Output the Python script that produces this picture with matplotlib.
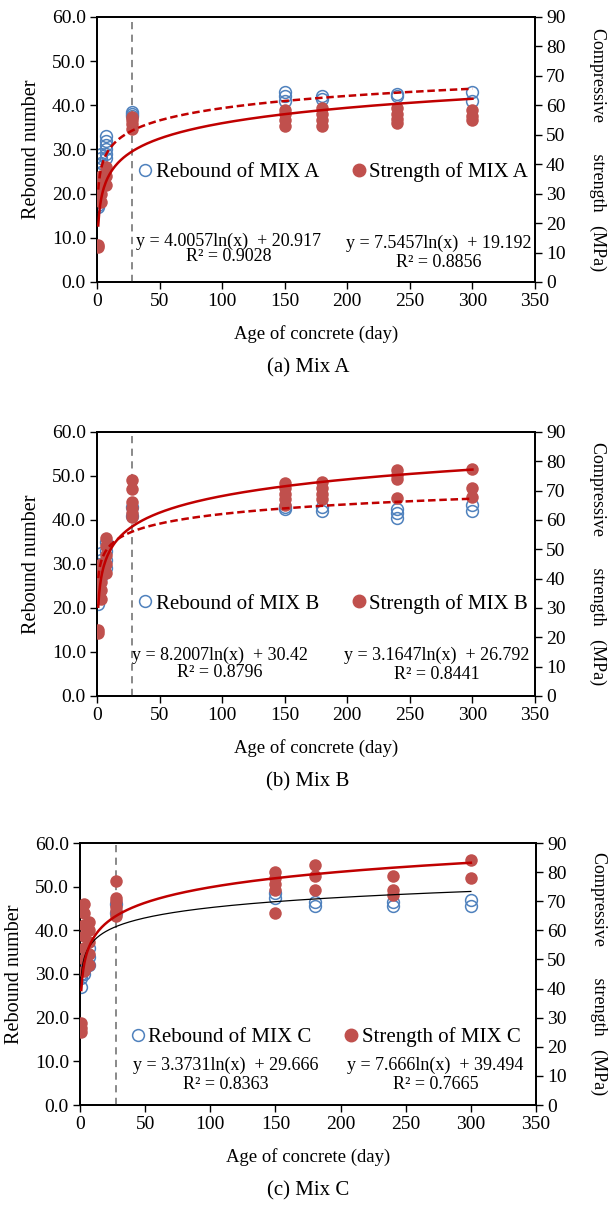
import numpy as np
import matplotlib
matplotlib.use('Agg')
import matplotlib.pyplot as plt
from matplotlib.lines import Line2D

plt.rcParams['font.family'] = ['Liberation Serif', 'DejaVu Serif']
plt.rcParams['mathtext.fontset'] = 'stix'

ages = [1, 3, 7, 28, 150, 180, 240, 300]

# rebound numbers per age (left axis)
reb_a = [[17, 17.5, 18, 21], [25, 26, 27, 28, 29], [28, 29, 30, 31, 32, 33], [37.5, 38, 38.5],
         [41, 42, 43], [41.5, 42], [42, 42.5], [41, 43]]
reb_b = [[21, 23, 24, 28], [27, 29, 31, 32.5], [29, 31, 33, 35], [41, 43],
         [42.5, 43], [42, 43], [40.5, 41.5, 42.5], [42, 43.5]]
reb_c = [[27, 29, 30, 31], [30, 31, 32, 33], [32, 34, 36], [44, 46],
         [47.5, 48.5], [45.5, 46.5], [45.5, 46.5], [45.5, 47]]

# compressive strength (MPa) per age (right axis)
str_a = [[12, 12.5], [27, 30, 33, 36], [33, 36, 39], [52, 53.5, 55, 56],
         [53, 55, 57, 58.5], [53, 55, 57, 59], [54, 55.5, 57, 59], [55, 56.5, 58.5]]
str_b = [[21.5, 22.5], [33, 36, 39, 42, 45], [42, 45, 48, 51, 54], [61, 62.5, 64, 66, 70.5, 73.5],
         [65, 67, 69, 71, 72.5], [67, 69, 71, 73], [67.5, 74, 75.5, 77], [68, 71, 77.5]]
str_c = [[25, 26.5, 28], [46, 50, 54, 58, 62, 66, 69], [48, 52, 56, 60, 63], [65, 66.5, 68, 70, 71, 77],
         [66, 74, 76, 78, 80], [74, 78.5, 82.5], [72, 74, 78.5], [78, 84]]

# log fits: (slope, intercept, R2)
fit_reb_a = (4.0057, 20.917, 0.9028)
fit_str_a = (7.5457, 19.192, 0.8856)
fit_str_b = (8.2007, 30.42, 0.8796)
fit_reb_b = (3.1647, 26.792, 0.8441)
fit_reb_c = (3.3731, 29.666, 0.8363)
fit_str_c = (7.666, 39.494, 0.7665)

mix_names = ['A', 'B', 'C']
captions = ['(a) Mix A', '(b) Mix B', '(c) Mix C']

BLUE = '#4F81BD'
FILL = '#C0504D'
RED = '#C00000'

W, H = 608, 1206
fig = plt.figure(figsize=(W / 100, H / 100), dpi=100)


def box(l, r, t, b):
    return [l / W, 1 - b / H, (r - l) / W, (b - t) / H]


def flat(vals):
    xs, ys = [], []
    for a, v in zip(ages, vals):
        xs += [a] * len(v)
        ys += v
    return np.array(xs), np.array(ys)


panels = [
    dict(pos=(97, 535, 17, 282), reb=reb_a, st=str_a, reb_fit=fit_reb_a, st_fit=fit_str_a,
         reb_style=dict(color=RED, lw=1.8, ls=(0, (3, 1.5))), st_style=dict(color=RED, lw=1.8),
         leg_y=0.415, eqs=[(fit_reb_a, 0.30, 0.155, 0.098), (fit_str_a, 0.78, 0.147, 0.075)]),
    dict(pos=(97, 535, 432, 696), reb=reb_b, st=str_b, reb_fit=fit_reb_b, st_fit=fit_str_b,
         reb_style=dict(color=RED, lw=1.8, ls=(0, (3, 1.5))), st_style=dict(color=RED, lw=1.8),
         leg_y=0.35, eqs=[(fit_str_b, 0.28, 0.155, 0.09), (fit_reb_b, 0.775, 0.155, 0.08)]),
    dict(pos=(80, 536, 843, 1105), reb=reb_c, st=str_c, reb_fit=fit_reb_c, st_fit=fit_str_c,
         reb_style=dict(color='black', lw=0.9), st_style=dict(color=RED, lw=1.8),
         leg_y=0.26, eqs=[(fit_reb_c, 0.32, 0.15, 0.077), (fit_str_c, 0.78, 0.15, 0.077)]),
]

xfit = np.linspace(1, 300, 400)

for i, p in enumerate(panels):
    l, r, t, b = p['pos']
    ax = fig.add_axes(box(l, r, t, b))
    ax2 = ax.twinx()

    xr, yr = flat(p['reb'])
    xs, ys = flat(p['st'])
    ax.plot(xr, yr, 'o', ms=8.5, mfc='none', mec=BLUE, mew=1.1, zorder=3)
    ax2.plot(xs, ys, 'o', ms=9, mfc=FILL, mec=FILL, mew=0, zorder=3)

    ax2.axvline(28, color='#808080', lw=1.3, ls=(0, (4, 3)), zorder=1)

    k, c0, _ = p['reb_fit']
    ax2.plot(xfit, k * np.log(xfit) + c0, transform=ax.transData, zorder=4, **p['reb_style'])
    k, c0, _ = p['st_fit']
    ax2.plot(xfit, k * np.log(xfit) + c0, zorder=4, **p['st_style'])

    ax.set_xlim(0, 350)
    ax.set_ylim(0, 60)
    ax2.set_ylim(0, 90)
    ax.set_xticks(np.arange(0, 351, 50))
    ax.set_yticks(np.arange(0, 61, 10))
    ax.set_yticklabels(['%.1f' % v for v in np.arange(0, 61, 10)])
    ax2.set_yticks(np.arange(0, 91, 10))
    for a in (ax, ax2):
        a.tick_params(labelsize=14, direction='out', length=5, width=1, pad=3)
        for s in a.spines.values():
            s.set_linewidth(1.3)
    ax.set_xlabel('Age of concrete (day)', fontsize=13.5, labelpad=11)
    ax.set_ylabel('Rebound number', fontsize=14.5, labelpad=8)
    ax2.set_ylabel('Compressive       strength   (MPa)', fontsize=13, rotation=270, labelpad=29)

    handles = [Line2D([], [], ls='none', marker='o', ms=8.5, mfc='none', mec=BLUE, mew=1.1),
               Line2D([], [], ls='none', marker='o', ms=9, mfc=FILL, mec=FILL)]
    ax2.legend(handles, ['Rebound of MIX ' + mix_names[i], 'Strength of MIX ' + mix_names[i]],
               ncol=2, loc='center', bbox_to_anchor=(0.535, p['leg_y']), frameon=False,
               fontsize=15, handletextpad=0.0, columnspacing=1.4, handlelength=1.0,
               borderaxespad=0)

    for (k, c0, r2), xe, ye, yr2 in p['eqs']:
        ax2.text(xe, ye, 'y = %gln(x)  + %g' % (k, c0), transform=ax.transAxes,
                 ha='center', va='center', fontsize=13)
        ax2.text(xe, yr2, 'R² = %.4f' % r2, transform=ax.transAxes,
                 ha='center', va='center', fontsize=13)

    fig.text(308 / W, 1 - (b + 86) / H, captions[i], ha='center', va='center', fontsize=15)

fig.savefig('out.png', dpi=100)
